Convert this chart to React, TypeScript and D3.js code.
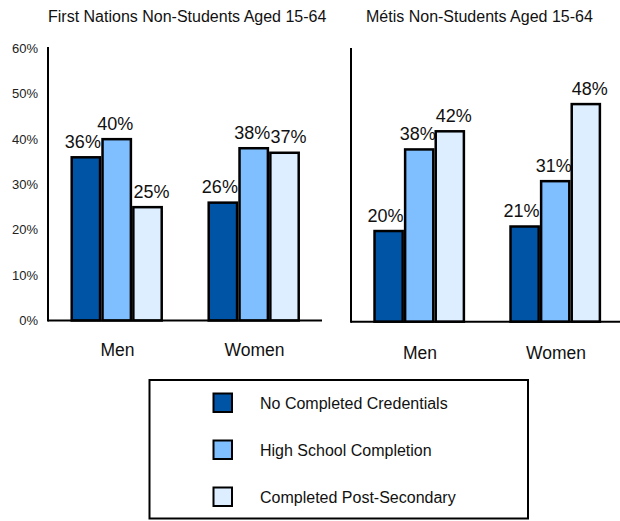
import React from "react";
import * as d3 from "d3";

const categories = ["Men", "Women"];
const seriesNames = ["No Completed Credentials", "High School Completion", "Completed Post-Secondary"];
const panelTitles = ["First Nations Non-Students Aged 15-64", "Métis Non-Students Aged 15-64"];

// values per series, [Men, Women]
const fnNoCredentials = [36, 26];
const fnHighSchool = [40, 38];
const fnPostSecondary = [25, 37];
const metisNoCredentials = [20, 21];
const metisHighSchool = [38, 31];
const metisPostSecondary = [42, 48];

const yTicks = [0, 10, 20, 30, 40, 50, 60];
const seriesColors = ["#0054A6", "#80BFFF", "#DCEEFF"];

const FONT = "'Liberation Sans', Arial, Helvetica, sans-serif";

type PanelProps = {
  title: string;
  titleX: number;
  series: number[][];
  x0: number;
  x1: number;
  axisEnd: number;
  baseline: number;
  axisTop: number;
  showTicks: boolean;
  catLabelY: number;
};

function Panel({ title, titleX, series, x0, x1, axisEnd, baseline, axisTop, showTicks, catLabelY }: PanelProps) {
  const y = d3.scaleLinear().domain([0, 60]).range([baseline, baseline - 272]);
  const xGroup = d3.scaleBand<string>().domain(categories).range([x0, x1]).padding(0);
  const gw = xGroup.bandwidth();
  const inner = d3
    .scaleBand<number>()
    .domain(d3.range(series.length))
    .range([gw * 0.173, gw * 0.83])
    .paddingInner(0.08)
    .paddingOuter(0);
  const nudge = [-3, -1.5, 4];

  return (
    <g>
      <text x={titleX} y={22} fontSize={16} fontFamily={FONT} fill="#111">
        {title}
      </text>
      {showTicks &&
        yTicks.map((t) => (
          <text
            key={t}
            x={38}
            y={y(t)}
            dy="0.35em"
            textAnchor="end"
            fontSize={13}
            fontFamily={FONT}
            fill="#222"
          >
            {t}%
          </text>
        ))}
      {categories.map((c, ci) => (
        <g key={c}>
          {series.map((vals, si) => {
            const bx = (xGroup(c) as number) + (inner(si) as number);
            const bw = inner.bandwidth();
            const v = vals[ci];
            return (
              <g key={si}>
                <rect
                  x={bx}
                  y={y(v)}
                  width={bw}
                  height={baseline - y(v)}
                  fill={seriesColors[si]}
                  stroke="#000"
                  strokeWidth={2.5}
                />
                <text
                  x={bx + bw / 2 + nudge[si]}
                  y={y(v) - 9.5}
                  textAnchor="middle"
                  fontSize={18}
                  fontFamily={FONT}
                  fill="#111"
                >
                  {v}%
                </text>
              </g>
            );
          })}
          <text
            x={(xGroup(c) as number) + gw / 2 + 1}
            y={catLabelY}
            textAnchor="middle"
            fontSize={17.5}
            fontFamily={FONT}
            fill="#111"
          >
            {c}
          </text>
        </g>
      ))}
      <line x1={x0} x2={x0} y1={axisTop} y2={baseline + 1} stroke="#000" strokeWidth={2} />
      <line x1={x0} x2={axisEnd} y1={baseline} y2={baseline} stroke="#000" strokeWidth={2} />
    </g>
  );
}

export default function App() {
  const fnSeries = [fnNoCredentials, fnHighSchool, fnPostSecondary];
  const metisSeries = [metisNoCredentials, metisHighSchool, metisPostSecondary];
  const legendY = d3.scalePoint<string>().domain(seriesNames).range([403, 497]);

  return (
    <svg
      width={620}
      height={521}
      style={{ position: "absolute", left: 0, top: 0, background: "#fff" }}
    >
      <rect x={0} y={0} width={620} height={521} fill="#fff" />
      <Panel
        title={panelTitles[0]}
        titleX={48}
        series={fnSeries}
        x0={48}
        x1={322}
        axisEnd={322}
        baseline={320.5}
        axisTop={47}
        showTicks={true}
        catLabelY={356}
      />
      <Panel
        title={panelTitles[1]}
        titleX={366}
        series={metisSeries}
        x0={351}
        x1={623}
        axisEnd={620}
        baseline={321.7}
        axisTop={48}
        showTicks={false}
        catLabelY={358.5}
      />
      <rect x={149.5} y={380} width={378.5} height={138.5} fill="#fff" stroke="#000" strokeWidth={2} />
      {seriesNames.map((s, i) => (
        <g key={s}>
          <rect
            x={213.5}
            y={(legendY(s) as number) - 9.5}
            width={18.5}
            height={18.5}
            fill={seriesColors[i]}
            stroke="#000"
            strokeWidth={2}
          />
          <text
            x={260}
            y={legendY(s) as number}
            dy="0.35em"
            fontSize={16}
            fontFamily={FONT}
            fill="#111"
          >
            {s}
          </text>
        </g>
      ))}
    </svg>
  );
}
